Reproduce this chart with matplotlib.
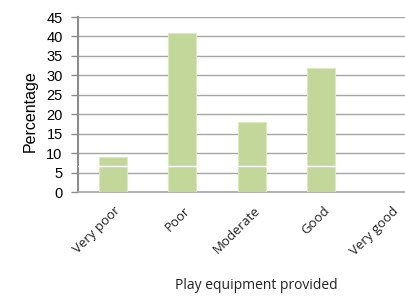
import matplotlib
matplotlib.use("Agg")
import matplotlib.pyplot as plt
from matplotlib.transforms import ScaledTranslation

categories = ["Very poor", "Poor", "Moderate", "Good", "Very good"]
values = [9, 41, 18, 32, 0]
yticks = [0, 5, 10, 15, 20, 25, 30, 35, 40, 45]

fig = plt.figure(figsize=(4.05, 2.97), dpi=100)
ax = fig.add_axes([0.1926, 0.3535, 0.858, 0.5892])

x = range(len(categories))
ax.bar(x, values, width=0.4, color="#c4d79b", edgecolor="#dbe8c0", linewidth=0.8, zorder=3)
ax.axhline(6.7, color="white", linewidth=1.0, zorder=4)

ax.set_xlim(-0.5, 4.5)
ax.set_ylim(0, 45)
ax.set_yticks(yticks)
ax.yaxis.grid(True, color="#a6a6a6", linewidth=1.0, zorder=0)
ax.set_axisbelow(True)
for s in ["top", "right"]:
    ax.spines[s].set_visible(False)
ax.spines["left"].set_color("#8c8c8c")
ax.spines["left"].set_linewidth(1.5)
ax.spines["bottom"].set_color("#a6a6a6")
ax.spines["bottom"].set_linewidth(1.2)
ax.tick_params(axis="y", length=5, color="#8c8c8c", width=1, labelsize=10.5, pad=6)
ax.tick_params(axis="x", length=0, pad=0)
for lab in ax.get_yticklabels():
    lab.set_fontfamily("Liberation Sans")

ax.set_xticks(list(x))
ax.set_xticklabels(categories, rotation=45, ha="right", va="center", rotation_mode="anchor",
                   fontsize=9.5, fontfamily="Open Sans", color="#222222")
off = ScaledTranslation(6 / 100, -17 / 100, fig.dpi_scale_trans)
for lab in ax.get_xticklabels():
    lab.set_transform(lab.get_transform() + off)

ax.set_ylabel("Percentage", fontsize=11.5, fontfamily="Liberation Sans", labelpad=6)
ax.yaxis.label.set_y(0.46)
fig.text(0.632, 0.04, "Play equipment provided", ha="center", va="center",
         fontsize=10, fontfamily="Open Sans", color="#222222")

fig.savefig("out.png", dpi=100)
